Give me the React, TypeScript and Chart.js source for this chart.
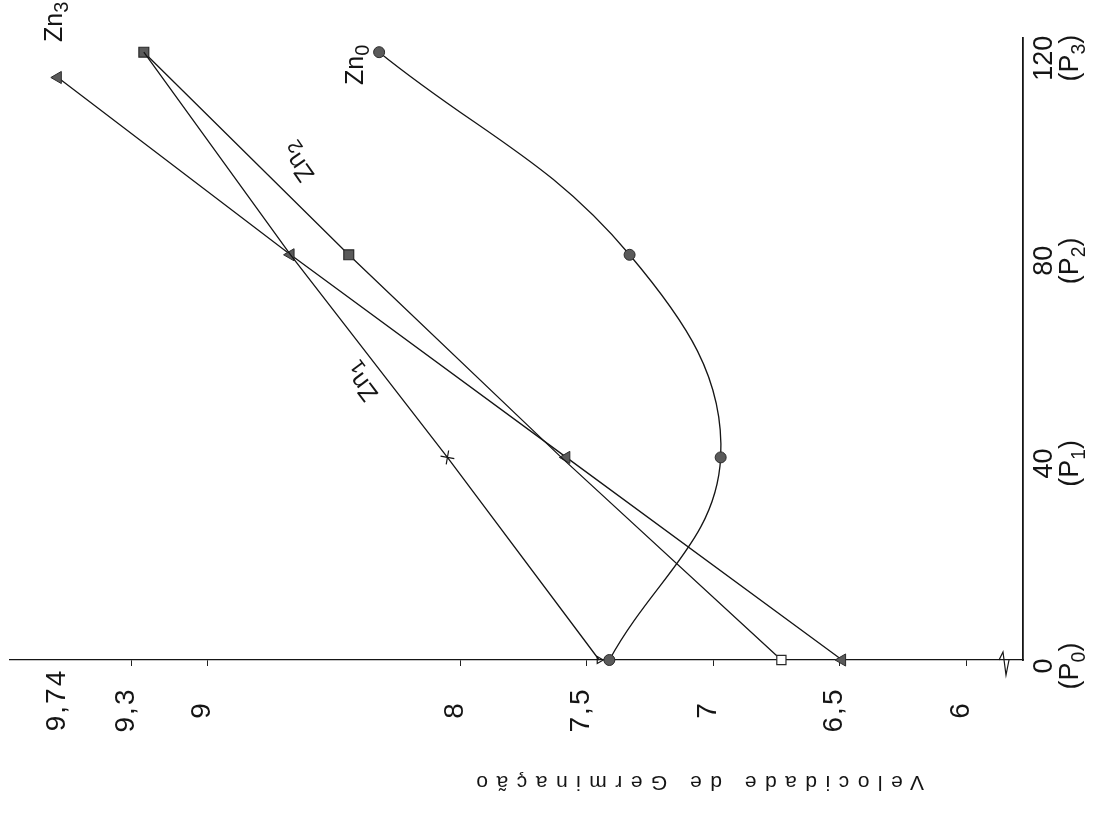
import React, { useEffect, useRef } from 'react';
import { Chart, registerables } from 'chart.js';

Chart.register(...registerables);

// Dose (kg/ha) levels P0..P3
const DOSES = [0, 40, 80, 120];
const DOSE_LABELS = ['0', '40', '80', '120'];
const DOSE_SUBS = ['0', '1', '2', '3'];

// Velocidade de germinação per treatment
const ZN0 = [7.41, 6.97, 7.33, 8.32];
const ZN1 = [7.45, 8.05, 8.67, 9.25];
const ZN2 = [6.73, 7.6, 8.44, 9.25];
const ZN3 = [6.49, 7.58, 8.67, 9.59];
const ZN3_DOSES = [0, 40, 80, 115];

// Value axis ticks
const VALUE_TICKS = [9.3, 9, 8, 7.5, 7, 6.5, 6];
const VALUE_TICK_LABELS = ['9,3', '9', '8', '7,5', '7', '6,5', '6'];
const TOP_VALUE_LABEL = '9,74';

// Series labels (subscript, anchor value, anchor dose, angle in degrees)
const SERIES_SUBS = ['0', '1', '2', '3'];
const SERIES_LABEL_VALUE = [8.41, 8.39, 8.64, 9.6];
const SERIES_LABEL_DOSE = [117.5, 54.9, 98.3, 126];
const SERIES_LABEL_ANGLE = [-90, -127, -125, -90];

const AXIS_TITLE = 'Velocidade de Germinação';

const INK = '#151515';
const FONT = '"Liberation Sans", "DejaVu Sans", sans-serif';

type Part = [string, number, number]; // text, scale, drop (fraction of size)

function drawParts(ctx: CanvasRenderingContext2D, parts: Part[], x: number, y: number, angle: number, size: number) {
  ctx.save();
  ctx.translate(x, y);
  ctx.rotate(angle);
  ctx.textAlign = 'left';
  ctx.textBaseline = 'middle';
  const widths = parts.map(([t, s]) => {
    ctx.font = `${size * s}px ${FONT}`;
    return ctx.measureText(t).width;
  });
  const total = widths.reduce((a, b) => a + b, 0);
  let cx = -total / 2;
  parts.forEach(([t, s, d], i) => {
    ctx.font = `${size * s}px ${FONT}`;
    ctx.fillText(t, cx, d * size);
    cx += widths[i];
  });
  ctx.restore();
}

const annotations = {
  id: 'annotations',
  afterDraw(chart: any) {
    const ctx: CanvasRenderingContext2D = chart.ctx;
    const xs = chart.scales.x;
    const ys = chart.scales.y;
    const area = chart.chartArea;
    ctx.save();
    ctx.fillStyle = INK;
    ctx.strokeStyle = INK;

    // value axis tick labels (rotated, reading bottom to top)
    (ctx as any).letterSpacing = '2px';
    VALUE_TICKS.forEach((v, i) => {
      const px = xs.getPixelForValue(v) - 5;
      drawParts(ctx, [[VALUE_TICK_LABELS[i], 1, 0]], px, 710, -Math.PI / 2, 28);
    });
    // label of the top value (placed at the top point of Zn3)
    drawParts(ctx, [[TOP_VALUE_LABEL, 1, 0]], xs.getPixelForValue(ZN3[3]) - 1, 700, -Math.PI / 2, 28);
    (ctx as any).letterSpacing = '0px';

    // dose axis labels
    DOSES.forEach((d, i) => {
      const py = ys.getPixelForValue(d) + 6;
      drawParts(ctx, [[DOSE_LABELS[i], 1, 0]], area.right + 22, py, -Math.PI / 2, 27);
      drawParts(ctx, [['(P', 1, 0], [DOSE_SUBS[i], 0.72, 0.32], [')', 1, 0]], area.right + 48, py, -Math.PI / 2, 27);
    });

    // series labels
    SERIES_SUBS.forEach((s, i) => {
      const px = xs.getPixelForValue(SERIES_LABEL_VALUE[i]);
      const py = ys.getPixelForValue(SERIES_LABEL_DOSE[i]);
      drawParts(ctx, [['Zn', 1, 0], [s, 0.8, 0.3]], px, py, (SERIES_LABEL_ANGLE[i] * Math.PI) / 180, 25);
    });

    // axis title, upside down
    ctx.save();
    ctx.translate(696, 782);
    ctx.rotate(Math.PI);
    ctx.font = `21px ${FONT}`;
    (ctx as any).letterSpacing = '8.5px';
    ctx.textAlign = 'center';
    ctx.textBaseline = 'middle';
    ctx.fillText(AXIS_TITLE, 0, 0);
    ctx.restore();

    // axis break mark near the origin of the dose axis
    const b = area.bottom;
    const r = area.right;
    ctx.lineWidth = 1.2;
    ctx.beginPath();
    ctx.moveTo(r - 24, b);
    ctx.lineTo(r - 20, b - 8);
    ctx.lineTo(r - 17, b + 15);
    ctx.lineTo(r - 14, b);
    ctx.stroke();
    ctx.restore();
  },
};

function pts(values: number[], doses: number[]) {
  return doses.map((d, i) => ({ x: values[i], y: d }));
}

export default function App() {
  const ref = useRef<HTMLCanvasElement | null>(null);

  useEffect(() => {
    if (!ref.current) return;
    const chart = new Chart(ref.current, {
      type: 'line',
      data: {
        datasets: [
          {
            label: 'Zn0',
            data: pts(ZN0, DOSES),
            borderColor: INK,
            borderWidth: 1.3,
            tension: 0.4,
            clip: false,
            pointStyle: 'circle',
            pointRadius: 5.5,
            pointBackgroundColor: '#5a5a5a',
            pointBorderColor: '#2a2a2a',
            pointBorderWidth: 1,
          },
          {
            label: 'Zn1',
            data: pts(ZN1, DOSES),
            borderColor: INK,
            borderWidth: 1.3,
            tension: 0,
            clip: false,
            pointStyle: ['triangle', 'cross', 'cross', 'cross'],
            pointRotation: [90, 10, 0, 0],
            pointRadius: [4, 7, 0, 0],
            pointBackgroundColor: 'rgba(0,0,0,0)',
            pointBorderColor: INK,
            pointBorderWidth: 1.2,
          },
          {
            label: 'Zn2',
            data: pts(ZN2, DOSES),
            borderColor: INK,
            borderWidth: 1.3,
            tension: 0,
            clip: false,
            pointStyle: 'rect',
            pointRadius: [6.5, 0, 7, 7],
            pointBackgroundColor: ['#ffffff', '#5a5a5a', '#5a5a5a', '#5a5a5a'],
            pointBorderColor: '#2a2a2a',
            pointBorderWidth: 1.2,
          },
          {
            label: 'Zn3',
            data: pts(ZN3, ZN3_DOSES),
            borderColor: INK,
            borderWidth: 1.3,
            tension: 0,
            clip: false,
            pointStyle: 'triangle',
            pointRotation: -90,
            pointRadius: 7,
            pointBackgroundColor: '#5a5a5a',
            pointBorderColor: '#2a2a2a',
            pointBorderWidth: 1,
          },
        ],
      },
      options: {
        indexAxis: 'y',
        responsive: false,
        animation: false,
        layout: { padding: { left: 10, top: 38, right: 0, bottom: 0 } },
        plugins: {
          legend: { display: false },
          tooltip: { enabled: false },
        },
        scales: {
          x: {
            type: 'linear',
            position: 'bottom',
            reverse: true,
            min: 5.775,
            max: 9.779,
            afterBuildTicks: (s: any) => {
              s.ticks = VALUE_TICKS.map((v) => ({ value: v }));
            },
            afterFit: (s: any) => {
              s.height = 173;
            },
            ticks: { display: false },
            grid: {
              display: true,
              drawOnChartArea: false,
              drawTicks: true,
              tickLength: 6,
              color: '#222',
              lineWidth: 1,
            },
            border: { display: true, color: INK, width: 1.3 },
          },
          y: {
            type: 'linear',
            position: 'right',
            min: 0,
            max: 122.8,
            afterFit: (s: any) => {
              s.width = 71;
            },
            ticks: { display: false },
            grid: { display: false },
            border: { display: true, color: INK, width: 1.8 },
          },
        },
      } as any,
      plugins: [annotations],
    });
    return () => chart.destroy();
  }, []);

  return (
    <div style={{ position: 'fixed', left: 0, top: 0, width: 1094, height: 833, background: '#fff' }}>
      <canvas ref={ref} width={1094} height={833} style={{ display: 'block' }} />
    </div>
  );
}
